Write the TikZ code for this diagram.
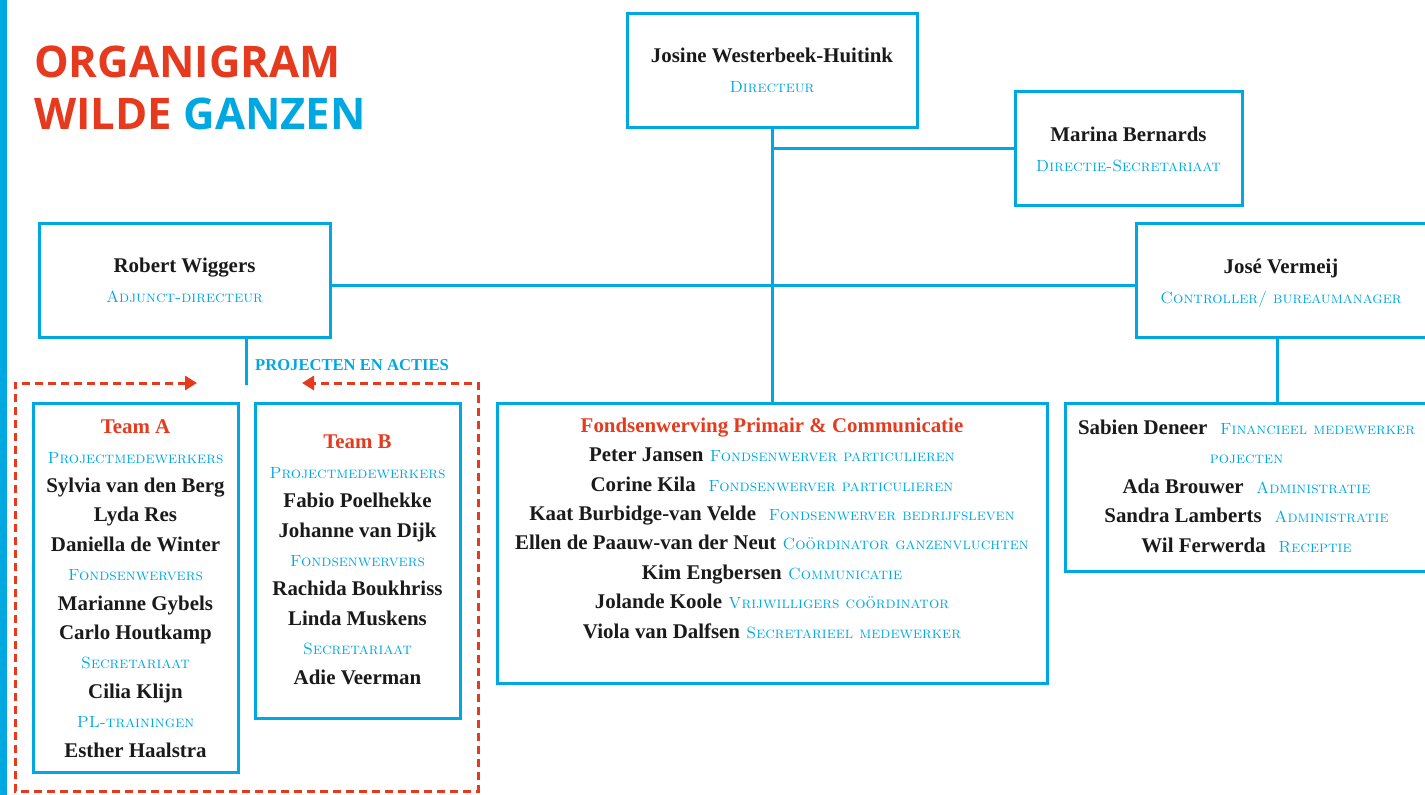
\documentclass[tikz,border=0pt]{standalone}
\usepackage{fontspec}
\newfontfamily\wgnamefont{Liberation Serif}
\newfontfamily\wgtitlefont{Open Sans}
\usetikzlibrary{arrows.meta}
\definecolor{wgblue}{HTML}{00A8E1}
\definecolor{wgred}{HTML}{E63A1E}
\definecolor{wgblack}{HTML}{1A1A1A}
\newcommand\wgname[1]{{\wgnamefont\bfseries\color{wgblack}#1}}
\newcommand\wgrole[1]{{\fontsize{16.2}{29.4}\selectfont\rmfamily\scshape\color{wgblue}#1}}
\newcommand\wghead[1]{{\wgnamefont\bfseries\color{wgred}#1}}
\tikzset{
  box/.style={draw=wgblue, line width=3pt, rectangle, inner sep=0pt},
  txt/.style={align=center, inner sep=0pt, font=\fontsize{20.9}{29.4}\selectfont},
  link/.style={draw=wgblue, line width=3pt},
  dashlink/.style={draw=wgred, line width=3pt, dash pattern=on 8pt off 5pt,
     {Triangle[length=12pt,width=14pt]}-{Triangle[length=12pt,width=14pt]}},
  titletxt/.style={inner sep=0pt, anchor=base west, font=\wgtitlefont\bfseries\fontsize{43.6}{50}\selectfont}
}
\begin{document}
\begin{tikzpicture}[x=1pt,y=-1pt]
\useasboundingbox (0,0) rectangle (1425,795);
\clip (0,0) rectangle (1425,795);
\fill[wgblue] (0,0) rectangle (7,795);
% title
\node[titletxt, text=wgred] (t1) at (34,77) {ORGANIGRAM};
\node[titletxt, text=wgred] (t2) at (34,129) {WILDE \textcolor{wgblue}{GANZEN}};
% boxes
\node[box, minimum width=290pt, minimum height=114pt] (dir) at (772,70) {};
\node[box, minimum width=227pt, minimum height=114pt] (mar) at (1128.5,148) {};
\node[box, minimum width=291pt, minimum height=114pt] (rob) at (184.5,280) {};
\node[box, minimum width=292pt, minimum height=114pt] (jose) at (1282,280) {};
\node[box, minimum width=205pt, minimum height=369pt] (ta) at (135.5,587.5) {};
\node[box, minimum width=205pt, minimum height=315pt] (tb) at (357.5,560.5) {};
\node[box, minimum width=550pt, minimum height=280pt] (fonds) at (772,543) {};
\node[box, minimum width=363pt, minimum height=168pt] (fin) at (1246.5,487) {};
% texts (anchor=base is the baseline of the last line)
\node[txt, anchor=base] (dirt) at (772,92) {\wgname{Josine Westerbeek-Huitink}\\\wgrole{Directeur}};
\node[txt, anchor=base] (mart) at (1128.5,171) {\wgname{Marina Bernards}\\\wgrole{Directie-Secretariaat}};
\node[txt, anchor=base] (robt) at (184.5,302) {\wgname{Robert Wiggers}\\\wgrole{Adjunct-directeur}};
\node[txt, anchor=base] (joset) at (1281,303) {\wgname{José Vermeij}\\\wgrole{Controller/ bureaumanager}};
\node[txt, anchor=base] (tat) at (135.5,757) {\wghead{Team A}\\
  \wgrole{Projectmedewerkers}\\
  \wgname{Sylvia van den Berg}\\
  \wgname{Lyda Res}\\
  \wgname{Daniella de Winter}\\
  \wgrole{Fondsenwervers}\\
  \wgname{Marianne Gybels}\\
  \wgname{Carlo Houtkamp}\\
  \wgrole{Secretariaat}\\
  \wgname{Cilia Klijn}\\
  \wgrole{PL-trainingen}\\
  \wgname{Esther Haalstra}};
\node[txt, anchor=base] (tbt) at (357.5,684) {\wghead{Team B}\\
  \wgrole{Projectmedewerkers}\\
  \wgname{Fabio Poelhekke}\\
  \wgname{Johanne van Dijk}\\
  \wgrole{Fondsenwervers}\\
  \wgname{Rachida Boukhriss}\\
  \wgname{Linda Muskens}\\
  \wgrole{Secretariaat}\\
  \wgname{Adie Veerman}};
\node[txt, anchor=base] (fondst) at (772,638) {\wghead{Fondsenwerving Primair \& Communicatie}\\
  \wgname{Peter Jansen} \wgrole{Fondsenwerver particulieren}\\
  \wgname{Corine Kila}\ \ \wgrole{Fondsenwerver particulieren}\\
  \wgname{Kaat Burbidge-van Velde}\ \ \wgrole{Fondsenwerver bedrijfsleven}\\
  \wgname{Ellen de Paauw-van der Neut} \wgrole{Coördinator ganzenvluchten}\\
  \wgname{Kim Engbersen} \wgrole{Communicatie}\\
  \wgname{Jolande Koole} \wgrole{Vrijwilligers coördinator}\\
  \wgname{Viola van Dalfsen} \wgrole{Secretarieel medewerker}};
\node[txt, anchor=base] (fint) at (1246.5,552) {\wgname{Sabien Deneer}\ \ \wgrole{Financieel medewerker}\\
  \wgrole{pojecten}\\
  \wgname{Ada Brouwer}\ \ \wgrole{Administratie}\\
  \wgname{Sandra Lamberts}\ \ \wgrole{Administratie}\\
  \wgname{Wil Ferwerda}\ \ \wgrole{Receptie}};
\node[inner sep=0pt, anchor=base west, text=wgblue, font=\wgnamefont\bfseries\fontsize{16.6}{18}\selectfont] (proj) at (255,370) {PROJECTEN EN ACTIES};
% connectors
\coordinate (hl) at (0,285);
\coordinate (pa) at (246,385);
\coordinate (jf) at (1277,0);
\coordinate (dm) at (772,148);
\draw[link] (dir.south) -- (fonds.north);
\draw[link] (dm) -- (mar.west);
\draw[link] (rob.east |- hl) -- (jose.west |- hl);
\draw[link] (pa |- rob.south) -- (pa);
\draw[link] (jf |- jose.south) -- (jf |- fin.north);
% dashed frame
\coordinate (al) at (197,383);
\coordinate (ar) at (302,383);
\coordinate (c1) at (15,383);
\coordinate (c2) at (15,791);
\coordinate (c3) at (478,791);
\coordinate (c4) at (478,383);
\draw[dashlink] (al) -- (c1) -- (c2) -- (c3) -- (c4) -- (ar);
\end{tikzpicture}
\end{document}
